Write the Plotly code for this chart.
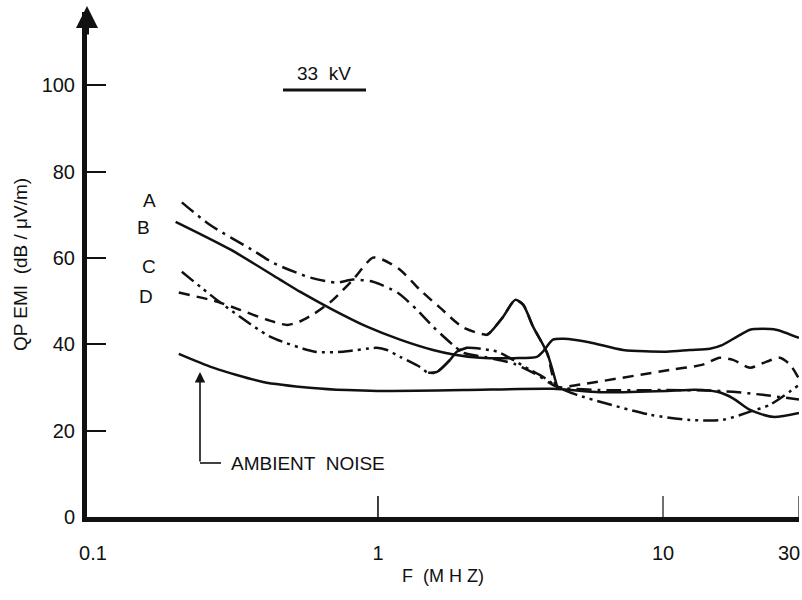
import math
import plotly.graph_objects as go

# ---- data (frequency in MHz, level in dB/uV/m) ----
A_f = [0.205, 0.257, 0.37, 0.428, 0.577, 0.718, 0.817, 0.96, 1.17, 1.37, 1.56, 1.83, 2.0, 2.4, 3.0, 3.6, 4.25, 6.0, 10.0, 14.6, 17.6, 22.4, 30]
A_v = [72.9, 67.7, 61.5, 58.9, 55.5, 54.3, 55.0, 54.5, 52.0, 48.0, 44.1, 39.9, 38.0, 37.0, 35.5, 33.0, 30.2, 29.4, 29.4, 29.3, 29.0, 28.3, 27.2]

B_f = [0.195, 0.303, 0.453, 0.532, 0.695, 0.915, 1.195, 1.56, 1.86, 2.28, 3.0, 3.61, 3.79, 4.11, 4.5, 5.5, 7.24, 10.3, 12.4, 14.6, 16.2, 18.2, 20.2, 22.4, 24.9, 30]
B_v = [68.4, 62.0, 55.0, 52.2, 48.0, 44.1, 41.1, 38.7, 37.6, 36.9, 36.8, 37.1, 38.3, 41.1, 41.3, 40.5, 38.7, 38.3, 38.7, 39.0, 39.9, 41.8, 43.4, 43.6, 43.4, 41.5]

C_f = [0.205, 0.272, 0.328, 0.418, 0.601, 0.754, 0.99, 1.075, 1.195, 1.40, 1.50, 1.61, 1.79, 1.89, 2.05, 2.62, 2.98, 3.41, 3.79, 4.25, 4.99, 9.0, 12.4, 16.2, 20.2, 23.7, 30]
C_v = [56.8, 50.3, 46.4, 41.8, 38.3, 38.3, 39.2, 38.7, 37.1, 34.8, 33.4, 33.6, 36.4, 38.3, 39.2, 38.3, 36.4, 34.1, 32.5, 30.2, 28.3, 23.7, 22.5, 22.5, 24.4, 26.0, 30.6]

D_f = [0.2, 0.272, 0.328, 0.408, 0.48, 0.532, 0.6, 0.695, 0.817, 0.96, 1.04, 1.195, 1.40, 1.65, 1.99, 2.41, 2.47, 2.75, 3.03, 3.23, 3.5, 3.92, 4.25, 4.99, 10.6, 13.8, 15.8, 17.6, 20.2, 23.1, 25.7, 27.9, 30]
D_v = [52.0, 49.9, 48.0, 45.7, 44.5, 45.3, 47.2, 50.3, 55.0, 60.1, 59.6, 57.3, 52.7, 48.5, 43.9, 42.2, 42.7, 46.4, 50.3, 49.2, 44.1, 38.0, 30.2, 30.6, 34.1, 35.3, 36.9, 36.4, 34.6, 36.0, 36.9, 35.3, 32.0]

AMB_f = [0.2, 0.264, 0.395, 0.59, 0.778, 1.0, 2.0, 4.1, 6.0, 10.3, 13.0, 15.5, 17.6, 20.2, 24.3, 30]
AMB_v = [37.8, 34.6, 31.3, 29.9, 29.4, 29.2, 29.4, 29.7, 28.9, 29.2, 29.5, 29.0, 27.5, 24.8, 23.2, 24.1]

X_TICKS = [0.1, 1, 10]
X_TICKTEXT = ["0.1", "1", "10"]
X_LAST_TICK = 30
X_LAST_TEXT = "30"
X_TICKMARKS = [1, 10, 30]
Y_TICKS = [0, 20, 40, 60, 80, 100]

series = [
    ("A", A_f, A_v, "15px,6px,3px,6px", 2),
    ("B", B_f, B_v, "solid", -6),
    ("C", C_f, C_v, "15px,5px,3px,5px,3px,5px", 5),
    ("D", D_f, D_v, "11px,7px", -4),
]

FONT = "Liberation Sans, Arial, Helvetica, sans-serif"
INK = "#111111"
LW = 2.5

fig = go.Figure()


def add_line(fx, fv, dash):
    fig.add_trace(go.Scatter(
        x=fx, y=fv, mode="lines",
        line=dict(color=INK, width=LW, dash=dash, shape="spline", smoothing=0.7),
        showlegend=False, hoverinfo="skip", cliponaxis=False))


for name, fx, fv, dash, ys in series:
    add_line(fx, fv, dash)


# segments that appear solid in the original drawing
def seg(fx, fv, lo, hi):
    idx = [i for i, f in enumerate(fx) if lo <= f <= hi]
    return [fx[i] for i in idx], [fv[i] for i in idx]


cf, cv = seg(C_f, C_v, 1.5, 2.05)
add_line(cf, cv, "solid")
df, dv = seg(D_f, D_v, 2.41, 4.25)
add_line(df, dv, "solid")

add_line(AMB_f, AMB_v, "solid")

# curve labels A-D
for name, fx, fv, dash, ys in series:
    fig.add_annotation(x=math.log10(fx[0]), y=fv[0], text=name, showarrow=False,
                       xanchor="right", yanchor="middle", xshift=-24, yshift=ys,
                       font=dict(family=FONT, size=19, color=INK))

# plot area geometry in px (for decorations)
L, R, T, B = 87, 799, 12, 517


def px(x):
    return (x - L) / (R - L)


def py(y):
    return (B - y) / (B - T)


# x tick marks (no mark at 0.1, which sits on the y axis)
for t in X_TICKMARKS:
    fig.add_shape(type="line", xref="x", yref="paper", x0=t, x1=t, y0=0, y1=py(B - 21),
                  line=dict(color=INK, width=1.6 if t == 1 else 1.2))

# last x tick label, kept inside the page
fig.add_annotation(xref="x", yref="paper", x=math.log10(X_LAST_TICK), y=py(553),
                   text=X_LAST_TEXT, showarrow=False, xanchor="right", yanchor="middle",
                   xshift=3, font=dict(family=FONT, size=20, color=INK))

# y axis arrowhead
fig.add_annotation(xref="paper", yref="paper", x=0, y=py(6), ax=0, ay=30,
                   showarrow=True, arrowhead=2, arrowsize=1.1, arrowwidth=4,
                   arrowcolor=INK, text="")

# 33 kV
fig.add_annotation(xref="paper", yref="paper", x=px(324), y=py(73), text="33  kV",
                   showarrow=False, xanchor="center", yanchor="middle",
                   font=dict(family=FONT, size=19, color=INK))
fig.add_shape(type="line", xref="paper", yref="paper", x0=px(283), x1=px(366),
              y0=py(90), y1=py(90), line=dict(color=INK, width=3))

# ambient noise pointer
fig.add_annotation(xref="paper", yref="paper", x=px(200), y=py(372), ax=0, ay=91,
                   showarrow=True, arrowhead=2, arrowsize=1.3, arrowwidth=1.6,
                   arrowcolor=INK, text="")
fig.add_shape(type="line", xref="paper", yref="paper", x0=px(200), x1=px(221),
              y0=py(463), y1=py(463), line=dict(color=INK, width=1.6))
fig.add_annotation(xref="paper", yref="paper", x=px(229), y=py(463), text="AMBIENT  NOISE",
                   showarrow=False, xanchor="left", yanchor="middle",
                   font=dict(family=FONT, size=19, color=INK))

fig.update_xaxes(type="log", range=[math.log10(0.0953), math.log10(30)], automargin=False,
                 showline=True, linewidth=5, linecolor=INK, showgrid=False, zeroline=False,
                 tickvals=X_TICKS, ticktext=X_TICKTEXT, ticks="", ticklabelstandoff=14,
                 tickfont=dict(family=FONT, size=20, color=INK),
                 title=dict(text="F  (M H Z)", standoff=8,
                            font=dict(family=FONT, size=18, color=INK)))
fig.update_yaxes(range=[0, 117], automargin=False, showline=True, linewidth=5, linecolor=INK,
                 showgrid=False, zeroline=False, tickvals=Y_TICKS,
                 ticks="inside", ticklen=19, tickwidth=2, tickcolor=INK,
                 ticklabelstandoff=3,
                 tickfont=dict(family=FONT, size=20, color=INK),
                 title=dict(text="QP EMI  (dB / μV/m)", standoff=10,
                            font=dict(family=FONT, size=19, color=INK)))

fig.update_layout(width=802, height=600, margin=dict(l=L, r=802 - R, t=T, b=600 - B),
                  plot_bgcolor="white", paper_bgcolor="white", showlegend=False)

fig.write_html("out.html")
